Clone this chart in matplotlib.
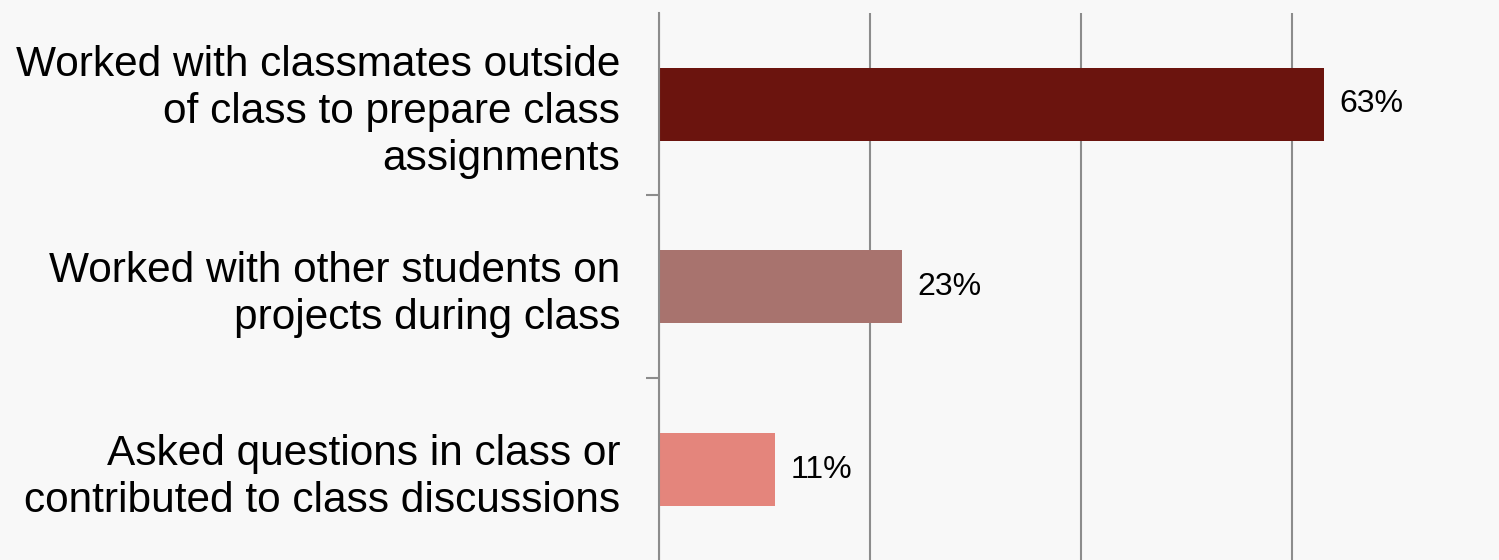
import matplotlib
matplotlib.use("Agg")
import matplotlib.pyplot as plt
from matplotlib.ticker import FixedLocator

plt.rcParams['font.family'] = ['Liberation Sans', 'DejaVu Sans']

categories = [
    "Worked with classmates outside\nof class to prepare class\nassignments",
    "Worked with other students on\nprojects during class",
    "Asked questions in class or\ncontributed to class discussions",
]
values = [63, 23, 11]
labels = ["63%", "23%", "11%"]
colors = ["#6B140E", "#A8736E", "#E4857C"]
grid_ticks = [0, 20, 40, 60]

bg = "#F8F8F8"
grid_col = "#8C8C8C"

fig = plt.figure(figsize=(14.99, 5.6), dpi=100, facecolor=bg)
ax = fig.add_axes([0.4398, -0.0018, 0.5602, 0.9791], facecolor=bg)

ypos = list(range(len(categories)))
ax.barh(ypos, values, height=0.40, color=colors, zorder=3)

ax.set_ylim(len(categories) - 0.5, -0.5)
ax.set_xlim(0, 79.6)

ax.set_xticks(grid_ticks)
ax.tick_params(axis='x', length=0, labelbottom=False)
ax.xaxis.grid(True, color=grid_col, linewidth=1.5, zorder=0)
ax.yaxis.grid(False)

ax.set_yticks(ypos)
ax.set_yticklabels(categories, fontsize=30.5, linespacing=1.23, ha='right')
ax.tick_params(axis='y', which='major', length=0, pad=28)
ax.yaxis.set_minor_locator(FixedLocator([0.5, 1.5]))
ax.tick_params(axis='y', which='minor', length=9.4, width=1.5, color=grid_col, direction='out')

for s in ['top', 'right', 'bottom']:
    ax.spines[s].set_visible(False)
ax.spines['left'].set_color(grid_col)
ax.spines['left'].set_linewidth(1.5)
ax.spines['left'].set_zorder(4)

for y, v, t in zip(ypos, values, labels):
    ax.annotate(t, xy=(v, y), xytext=(11, 0), textcoords='offset points',
                va='center', ha='left', fontsize=23, color='#000000')

fig.savefig("out.png", dpi=100, facecolor=bg)
